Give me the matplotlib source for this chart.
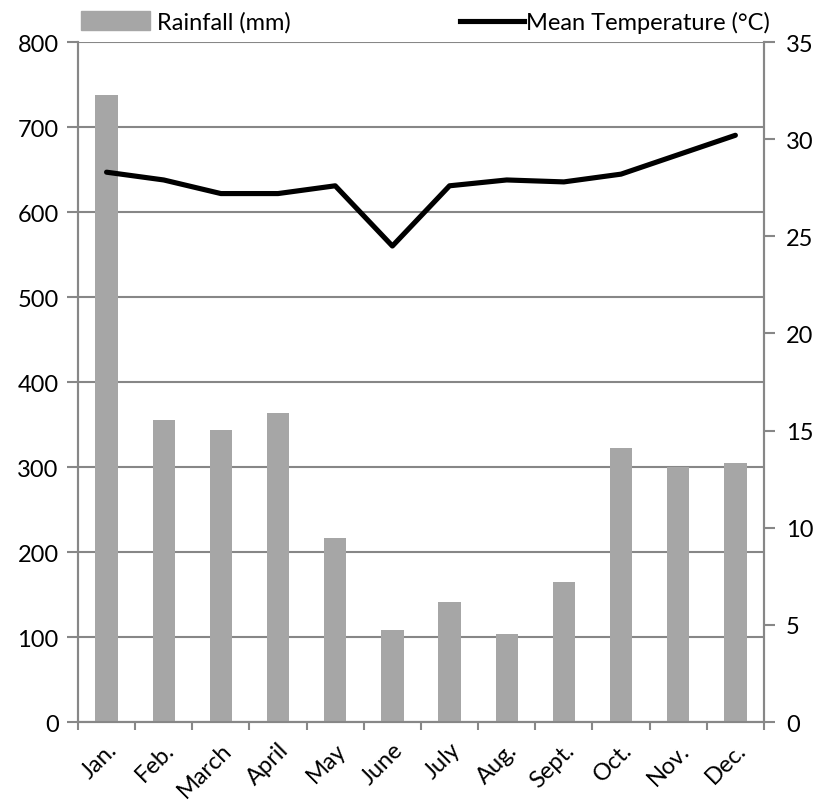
import numpy as np
import matplotlib
matplotlib.use('Agg')
import matplotlib.pyplot as plt
from matplotlib.patches import Patch
from matplotlib.lines import Line2D

# Monthly climate data
months = ['Jan.', 'Feb.', 'March', 'April', 'May', 'June',
          'July', 'Aug.', 'Sept.', 'Oct.', 'Nov.', 'Dec.']
rainfall = [738, 355, 344, 364, 216, 108, 141, 104, 165, 322, 300, 305]
temperature = [28.3, 27.9, 27.2, 27.2, 27.6, 24.5, 27.6, 27.9, 27.8, 28.2, 29.2, 30.2]

rain_ticks = [0, 100, 200, 300, 400, 500, 600, 700, 800]
temp_ticks = [0, 5, 10, 15, 20, 25, 30, 35]

plt.rcParams['font.family'] = ['Lato', 'DejaVu Sans']
grey = '#878787'
fs = 17

fig = plt.figure(figsize=(8.19, 8.04), dpi=100)
ax = fig.add_axes([0.0952, 0.1007, 0.8376, 0.8458])
ax2 = ax.twinx()

x = np.arange(len(months))
ax.bar(x, rainfall, width=0.39, color='#a6a6a6', zorder=3)
ax.set_ylim(0, 800)
ax.set_xlim(-0.5, len(months) - 0.5)
ax.set_yticks(rain_ticks)
ax.yaxis.grid(True, color=grey, linewidth=1.5, zorder=0)
ax.set_axisbelow(True)

ax.set_xticks(x)
ax.set_xticklabels(months, rotation=45, ha='right', rotation_mode='anchor', fontsize=fs)
ax.tick_params(axis='x', which='major', length=0, pad=12)
ax.set_xticks(np.arange(-0.5, len(months)), minor=True)
ax.tick_params(axis='x', which='minor', length=6, width=1.5, color=grey)
ax.tick_params(axis='y', length=8, width=1.5, color=grey, labelsize=fs, pad=6)

ax2.plot(x, temperature, color='black', linewidth=3.7, solid_capstyle='round', zorder=4)
ax2.set_ylim(0, 35)
ax2.set_yticks(temp_ticks)
ax2.tick_params(axis='y', length=8, width=1.5, color=grey, labelsize=fs, pad=8)

for a in (ax, ax2):
    a.spines['top'].set_visible(False)
    for side in ('left', 'right', 'bottom'):
        a.spines[side].set_color(grey)
        a.spines[side].set_linewidth(1.5)

# legends above the plot area
fig.legend(handles=[Patch(color='#a6a6a6', label='Rainfall (mm)')],
           loc='upper left', bbox_to_anchor=(0.085, 1.0), frameon=False,
           fontsize=fs, handlelength=2.9, handleheight=0.9, handletextpad=0.3,
           borderaxespad=0.1)
fig.legend(handles=[Line2D([], [], color='black', linewidth=3.7, label='Mean Temperature (°C)')],
           loc='upper right', bbox_to_anchor=(0.955, 1.0), frameon=False,
           fontsize=fs, handlelength=2.7, handletextpad=0.1, borderaxespad=0.1)

fig.savefig('out.png', dpi=100)
